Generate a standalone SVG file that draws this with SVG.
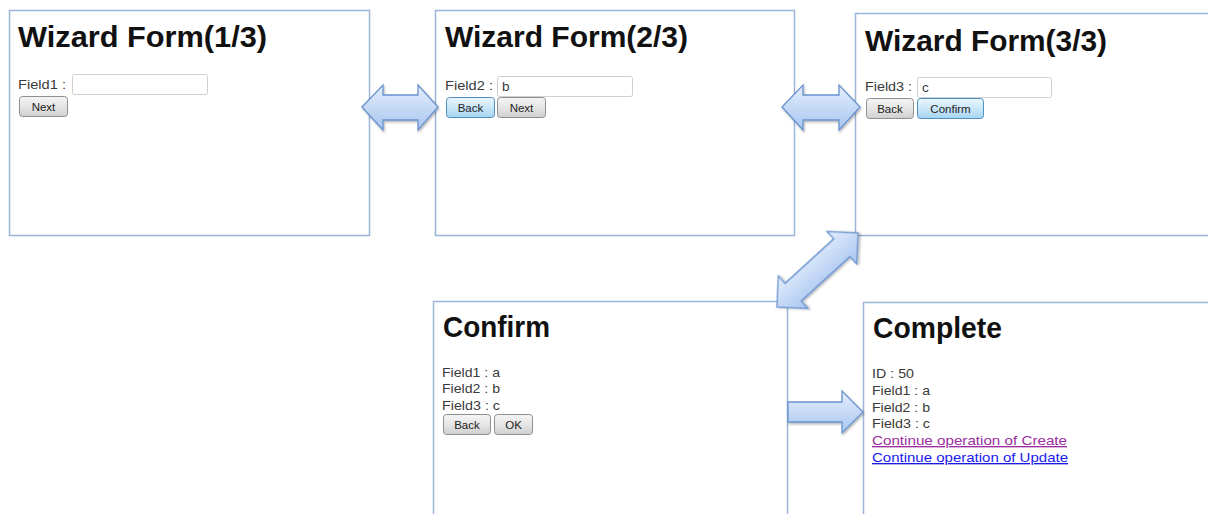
<svg xmlns="http://www.w3.org/2000/svg" width="1208" height="514" viewBox="0 0 1208 514">
<defs>
<linearGradient id="gBtn" x1="0" y1="0" x2="0" y2="1"><stop offset="0" stop-color="#f4f4f4"/><stop offset="0.5" stop-color="#e6e6e6"/><stop offset="1" stop-color="#cfcfcf"/></linearGradient>
<linearGradient id="gBtnB" x1="0" y1="0" x2="0" y2="1"><stop offset="0" stop-color="#eaf6fd"/><stop offset="0.5" stop-color="#c9e7f8"/><stop offset="1" stop-color="#a6d5f0"/></linearGradient>
<linearGradient id="gArr" x1="0" y1="0" x2="0" y2="1"><stop offset="0" stop-color="#e4eefc"/><stop offset="1" stop-color="#a8c5f0"/></linearGradient>
<filter id="sh" x="-20%" y="-20%" width="140%" height="140%"><feDropShadow dx="1" dy="1.5" stdDeviation="1.2" flood-color="#000" flood-opacity="0.3"/></filter>
</defs>
<style>
.panel{fill:#fff;stroke:#9cb5d8;stroke-width:1.5}
.title{font-family:"Liberation Sans",Arial,sans-serif;font-weight:bold;font-size:30px;fill:#111}
.t{font-family:"Liberation Sans",Arial,sans-serif;font-size:13.5px;fill:#3a3a3a}
.bt{font-family:"Liberation Sans",Arial,sans-serif;font-size:11.5px;fill:#222;text-anchor:middle}
.btn{fill:url(#gBtn);stroke:#8f8f8f;stroke-width:1}
.btnb{fill:url(#gBtnB);stroke:#4f8fbf;stroke-width:1}
.inp{fill:#fff;stroke:#d0d0d0;stroke-width:1}
.arr{fill:url(#gArr);stroke:#6a93cf;stroke-width:1.3;filter:url(#sh)}
.lk1{font-family:"Liberation Sans",Arial,sans-serif;font-size:13.5px;fill:#9b2ea0;text-decoration:underline}
.lk2{font-family:"Liberation Sans",Arial,sans-serif;font-size:13.5px;fill:#1a1aee;text-decoration:underline}
</style>
<rect width="1208" height="514" fill="#fff"/>

<g id="wizard1">
<rect class="panel" x="9.5" y="10.5" width="360" height="225"/>
<text class="title" x="18" y="47" textLength="249" lengthAdjust="spacingAndGlyphs">Wizard Form(1/3)</text>
<text class="t" x="18" y="89" textLength="48" lengthAdjust="spacingAndGlyphs">Field1 :</text>
<rect class="inp" x="72.5" y="74.5" width="135" height="20" rx="2"/>
<rect class="btn" x="19.5" y="96.5" width="48" height="20" rx="3"/>
<text class="bt" x="43.5" y="110.5">Next</text>
</g>

<g id="wizard2">
<rect class="panel" x="435.5" y="10.5" width="359" height="225"/>
<text class="title" x="445" y="47" textLength="243" lengthAdjust="spacingAndGlyphs">Wizard Form(2/3)</text>
<text class="t" x="445" y="90" textLength="48" lengthAdjust="spacingAndGlyphs">Field2 :</text>
<rect class="inp" x="497.5" y="76.5" width="135" height="20" rx="2"/>
<text class="t" x="502" y="90.5">b</text>
<rect class="btnb" x="446.5" y="97.5" width="48" height="20" rx="3"/>
<text class="bt" x="470.5" y="111.5">Back</text>
<rect class="btn" x="497.5" y="97.5" width="48" height="20" rx="3"/>
<text class="bt" x="521.5" y="111.5">Next</text>
</g>

<g id="wizard3">
<rect class="panel" x="855.5" y="13.5" width="360" height="222"/>
<text class="title" x="865" y="51" textLength="242" lengthAdjust="spacingAndGlyphs">Wizard Form(3/3)</text>
<text class="t" x="865" y="91" textLength="47" lengthAdjust="spacingAndGlyphs">Field3 :</text>
<rect class="inp" x="917.5" y="77.5" width="134" height="20" rx="2"/>
<text class="t" x="922" y="91.5">c</text>
<rect class="btn" x="866.5" y="98.5" width="47" height="20" rx="3"/>
<text class="bt" x="890" y="112.5">Back</text>
<rect class="btnb" x="917.5" y="98.5" width="66" height="20" rx="3"/>
<text class="bt" x="950.5" y="112.5">Confirm</text>
</g>

<g id="confirm">
<rect class="panel" x="433.5" y="301.5" width="354" height="220"/>
<text class="title" x="443" y="337" textLength="107" lengthAdjust="spacingAndGlyphs">Confirm</text>
<text class="t" x="442" y="377" textLength="58" lengthAdjust="spacingAndGlyphs">Field1 : a</text>
<text class="t" x="442" y="393" textLength="58" lengthAdjust="spacingAndGlyphs">Field2 : b</text>
<text class="t" x="442" y="410" textLength="58" lengthAdjust="spacingAndGlyphs">Field3 : c</text>
<rect class="btn" x="443.5" y="414.5" width="47" height="20" rx="3"/>
<text class="bt" x="467" y="428.5">Back</text>
<rect class="btn" x="494.5" y="414.5" width="38" height="20" rx="3"/>
<text class="bt" x="513.5" y="428.5">OK</text>
</g>

<g id="complete">
<rect class="panel" x="863.5" y="302.5" width="360" height="220"/>
<text class="title" x="873" y="338" textLength="129" lengthAdjust="spacingAndGlyphs">Complete</text>
<text class="t" x="872" y="378" textLength="42" lengthAdjust="spacingAndGlyphs">ID : 50</text>
<text class="t" x="872" y="395" textLength="58" lengthAdjust="spacingAndGlyphs">Field1 : a</text>
<text class="t" x="872" y="412" textLength="58" lengthAdjust="spacingAndGlyphs">Field2 : b</text>
<text class="t" x="872" y="428" textLength="58" lengthAdjust="spacingAndGlyphs">Field3 : c</text>
<text class="lk1" x="872" y="445" textLength="195" lengthAdjust="spacingAndGlyphs">Continue operation of Create</text>
<text class="lk2" x="872" y="462" textLength="196" lengthAdjust="spacingAndGlyphs">Continue operation of Update</text>
</g>

<g id="connectors">
<polygon class="arr" points="362,107 383,85 383,95 418,95 418,85 438,107 418,130 418,120 383,120 383,130"/>
<polygon class="arr" points="782,107 803,85 803,95 839,95 839,85 860,107 839,130 839,120 803,120 803,130"/>
<polygon class="arr" transform="translate(817.5,270) rotate(-42.4)" points="-55,0 -33,-22 -33,-12 33,-12 33,-22 55,0 33,22 33,12 -33,12 -33,22"/>
<polygon class="arr" points="788,402 842,402 842,391 863,412 842,433 842,422 788,422"/>
</g>
</svg>
